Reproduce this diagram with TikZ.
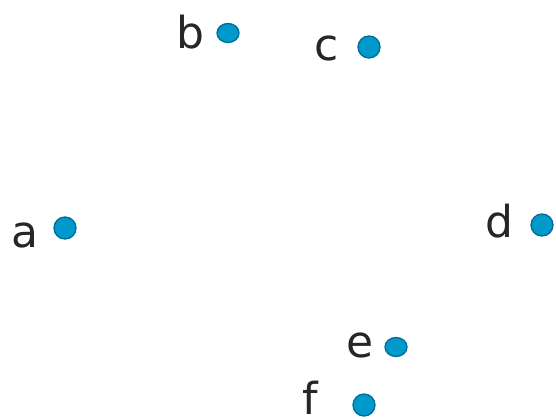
\documentclass[tikz,border=0pt]{standalone}
\usepackage{fontspec}
\setmainfont{DejaVu Sans}
\usepackage{xcolor}
\usepackage{tikz}
\usetikzlibrary{shapes.geometric, positioning}

\definecolor{dotfill}{RGB}{0,153,204}
\definecolor{dotline}{RGB}{0,108,150}

\begin{document}
\begin{tikzpicture}[
    x=1pt, y=-1pt,
    dot/.style={ellipse, draw=dotline, fill=dotfill, line width=1.3pt, inner sep=0pt, minimum width=22pt, minimum height=19pt},
    round/.style={minimum height=22pt},
    lbl/.style={anchor=base, inner sep=0pt, text=black!85, font=\fontsize{44}{44}\selectfont},
]
\useasboundingbox (0,0) rectangle (556,418);

\node[dot, round] (a) at (65,228) {};
\node[dot] (b) at (228,33) {};
\node[dot, round] (c) at (369,47) {};
\node[dot, round] (d) at (542,225) {};
\node[dot] (e) at (396,347) {};
\node[dot, round] (f) at (364,405) {};

\node[lbl] (la) at (25,247) {a};
\node[lbl] (lb) at (190,48) {b};
\node[lbl] (lc) at (327,60) {c};
\node[lbl] (ld) at (499,237) {d};
\node[lbl] (le) at (360,357) {e};
\node[lbl] (lf) at (310,414) {f};
\end{tikzpicture}
\end{document}
